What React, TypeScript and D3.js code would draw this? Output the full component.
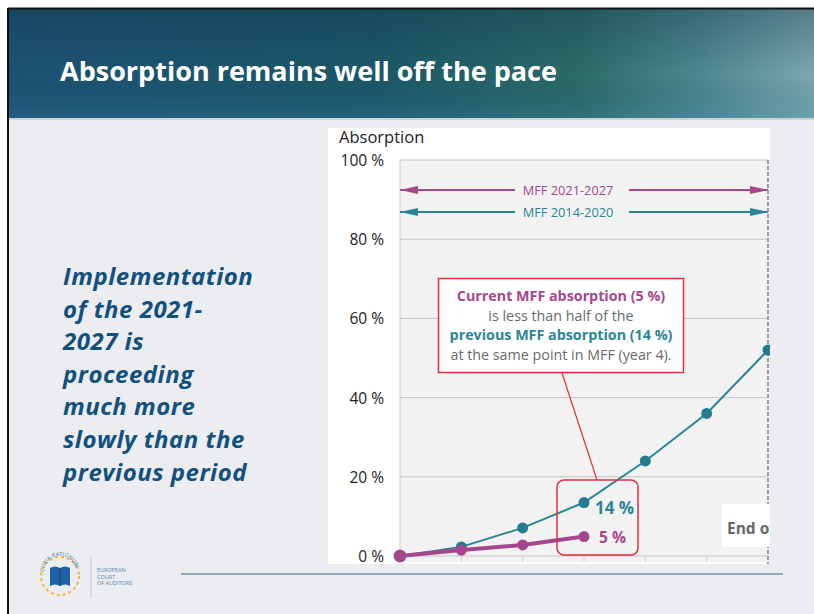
import * as d3 from 'd3'

// chart data
const years = [0, 1, 2, 3, 4, 5, 6]
const prevMff = [0, 2.3, 7.1, 13.5, 24, 36, 52] // MFF 2014-2020
const currMff = [0, 1.5, 2.8, 4.9] // MFF 2021-2027
const yTicks = [0, 20, 40, 60, 80, 100]
const yTickLabels = ['0 %', '20 %', '40 %', '60 %', '80 %', '100 %']
const periodLabels = ['MFF 2021-2027', 'MFF 2014-2020']
const sideText = [
  'Implementation',
  'of the 2021-',
  '2027 is',
  'proceeding',
  'much more',
  'slowly than the',
  'previous period',
]

const TEAL = '#2a8596'
const TEAL_DOT = '#227c8f'
const PINK = '#a5478f'
const RED = '#e0303f'
const FONT = "'Open Sans', 'Noto Sans', sans-serif"

export default function App() {
  const width = 814,
    height = 614

  // plot area
  const x = d3.scaleLinear().domain([0, 6]).range([400, 768])
  const y = d3.scaleLinear().domain([0, 100]).range([556, 160])

  const line = d3
    .line<number>()
    .x((_, i) => x(years[i]))
    .y((d) => y(d))

  const x3 = x(3)

  return (
    <div style={{ position: 'fixed', left: 0, top: 0 }}>
      <svg width={width} height={height} style={{ display: 'block' }}>
        <defs>
          <linearGradient id="hdr" x1="0" y1="0" x2="1" y2="0">
            <stop offset="0" stopColor="#1d5275" />
            <stop offset="0.45" stopColor="#1c5868" />
            <stop offset="0.7" stopColor="#2c6b6a" />
            <stop offset="0.85" stopColor="#4d8890" />
            <stop offset="1" stopColor="#7eaab2" />
          </linearGradient>
          <linearGradient id="hdrV" x1="0" y1="0" x2="0" y2="1">
            <stop offset="0" stopColor="#0d2f45" stopOpacity="0.35" />
            <stop offset="0.6" stopColor="#0d2f45" stopOpacity="0" />
            <stop offset="1" stopColor="#3a8cb0" stopOpacity="0.25" />
          </linearGradient>
          <clipPath id="panelClip">
            <rect x={328} y={128} width={442} height={436} />
          </clipPath>
          <marker id="arrP" viewBox="0 0 18 8" refX="18" refY="4" markerWidth="18" markerHeight="8" markerUnits="userSpaceOnUse" orient="auto-start-reverse">
            <path d="M0,0 L18,4 L0,8 z" fill={PINK} />
          </marker>
          <marker id="arrT" viewBox="0 0 18 8" refX="18" refY="4" markerWidth="18" markerHeight="8" markerUnits="userSpaceOnUse" orient="auto-start-reverse">
            <path d="M0,0 L18,4 L0,8 z" fill={TEAL} />
          </marker>
        </defs>

        {/* page + slide frame */}
        <rect x={0} y={0} width={width} height={height} fill="#ffffff" />
        <rect x={8} y={8} width={width - 8} height={height - 8} fill="#ecedf1" />
        <rect x={8} y={8} width={width} height={111} fill="url(#hdr)" />
        <rect x={8} y={8} width={width} height={111} fill="url(#hdrV)" />
        <line x1={8} x2={width} y1={119} y2={119} stroke="#c9d3d8" strokeWidth={2} />
        <line x1={8} x2={width} y1={8.5} y2={8.5} stroke="#111" strokeWidth={2} />
        <line x1={8} x2={8} y1={8} y2={height} stroke="#111" strokeWidth={2} />

        <text x={60} y={81} fill="#fff" fontFamily={FONT} fontWeight={700} fontSize={27}>
          Absorption remains well off the pace
        </text>

        {/* left side statement */}
        <text fill="#12507e" fontFamily={FONT} fontWeight={700} fontStyle="italic" fontSize={24} letterSpacing={0.5}>
          {sideText.map((t, i) => (
            <tspan key={i} x={63} y={285 + i * 32.6}>
              {t}
            </tspan>
          ))}
        </text>

        {/* chart panel */}
        <g clipPath="url(#panelClip)">
          <rect x={328} y={128} width={442} height={436} fill="#ffffff" />
          <rect x={x(0)} y={y(100)} width={x(6) - x(0) + 4} height={y(0) - y(100) + 6} fill="#f2f2f2" />

          {yTicks.map((t) => (
            <line key={t} x1={x(0)} x2={x(6)} y1={y(t)} y2={y(t)} stroke="#c4c4c4" strokeWidth={1} />
          ))}
          <line x1={x(0)} x2={x(0)} y1={y(100)} y2={y(0) + 6} stroke="#d0d0d0" />
          {years.slice(1, 6).map((yr) => (
            <line key={yr} x1={x(yr)} x2={x(yr)} y1={y(0)} y2={y(0) + 6} stroke="#d0d0d0" />
          ))}

          <text x={339} y={143} fontFamily={FONT} fontSize={16.5} fill="#222">
            Absorption
          </text>
          {yTicks.map((t, i) => (
            <text key={t} x={384} y={y(t) + 6} textAnchor="end" fontFamily={FONT} fontSize={15.5} fill="#222">
              {yTickLabels[i]}
            </text>
          ))}

          {/* period arrows */}
          {[0, 1].map((k) => {
            const yy = k === 0 ? 190 : 212
            const col = k === 0 ? PINK : TEAL
            const mk = k === 0 ? 'url(#arrP)' : 'url(#arrT)'
            const cx = 568
            return (
              <g key={k}>
                <line x1={x(0)} x2={cx - 53} y1={yy} y2={yy} stroke={col} strokeWidth={2} markerStart={mk} />
                <line x1={cx + 61} x2={x(6)} y1={yy} y2={yy} stroke={col} strokeWidth={2} markerEnd={mk} />
                <text x={cx} y={yy + 4.5} textAnchor="middle" fontFamily={FONT} fontSize={12.8} fill={col}>
                  {periodLabels[k]}
                </text>
              </g>
            )
          })}

          {/* end of period */}
          <line x1={x(6)} x2={x(6)} y1={y(100)} y2={564} stroke="#9a9a9a" strokeWidth={2} strokeDasharray="4 2" />
          <rect x={722} y={504} width={60} height={43} fill="#ffffff" />
          <text x={727} y={534} fontFamily={FONT} fontWeight={700} fontSize={15.5} fill="#666">
            End of
          </text>

          {/* series */}
          <path d={line(prevMff) ?? ''} fill="none" stroke={TEAL} strokeWidth={2} />
          {prevMff.map((v, i) => (
            <circle key={i} cx={x(years[i])} cy={y(v)} r={5.5} fill={TEAL_DOT} />
          ))}
          <path d={line(currMff) ?? ''} fill="none" stroke={PINK} strokeWidth={4} />
          {currMff.map((v, i) => (
            <circle key={i} cx={x(years[i])} cy={y(v)} r={i === 0 ? 6.5 : 5.5} fill={PINK} />
          ))}

          <text x={x3 + 11} y={y(prevMff[3]) + 11} fontFamily={FONT} fontWeight={700} fontSize={17} fill={TEAL}>
            14 %
          </text>
          <text x={x3 + 15} y={y(currMff[3]) + 6} fontFamily={FONT} fontWeight={700} fontSize={15.5} fill={PINK}>
            5 %
          </text>

          {/* callout */}
          <line x1={562} y1={373} x2={597} y2={480} stroke={RED} strokeWidth={1.2} />
          <rect x={x3 - 27} y={480} width={81} height={75} rx={7} fill="none" stroke={RED} strokeWidth={1.5} />
          <rect x={438.5} y={278.5} width={245} height={94} fill="#ffffff" stroke={RED} strokeWidth={1.5} />
          <g fontFamily={FONT} fontSize={14.3} textAnchor="middle">
            <text x={561} y={301} fontWeight={700} fill={PINK}>
              Current MFF absorption (5 %)
            </text>
            <text x={561} y={321} fill="#6a6a6a">
              is less than half of the
            </text>
            <text x={561} y={340} fontWeight={700} fill={TEAL}>
              previous MFF absorption (14 %)
            </text>
            <text x={561} y={360} fill="#6a6a6a">
              at the same point in MFF (year 4).
            </text>
          </g>
        </g>

        {/* footer */}
        <g>
          <circle cx={60} cy={576} r={19} fill="none" stroke="#f2b63c" strokeWidth={2} strokeDasharray="3 3" />
          <path d="M 50 568 Q 55 565 60 568 Q 65 565 70 568 L 70 586 Q 65 583 60 586 Q 55 583 50 586 Z" fill="#1f5fa3" />
          <line x1={60} x2={60} y1={568} y2={586} stroke="#0f3f70" strokeWidth={1} />
          <path id="arcTxt" d="M 44 572 A 16 16 0 0 1 76 572" fill="none" />
          <text fontFamily={FONT} fontSize={5.5} fill="#3a78b0">
            <textPath href="#arcTxt">CURIA RATIONUM</textPath>
          </text>
          <line x1={91} x2={91} y1={556} y2={598} stroke="#c8c8c8" strokeWidth={1} />
          <g fontFamily={FONT} fontSize={5.5} fill="#4f86b8">
            <text x={97} y={572}>EUROPEAN</text>
            <text x={97} y={578.5}>COURT</text>
            <text x={97} y={585}>OF AUDITORS</text>
          </g>
          <line x1={181} x2={783} y1={574} y2={574} stroke="#6f95a6" strokeWidth={1.5} />
        </g>
      </svg>
    </div>
  )
}
